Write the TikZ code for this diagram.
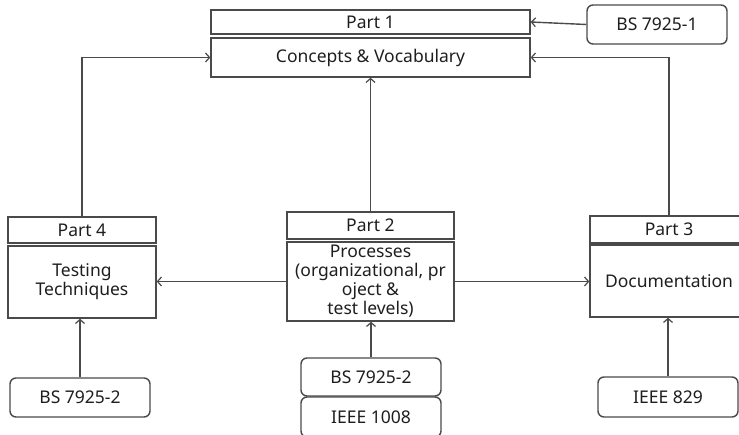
\documentclass[tikz,border=0pt]{standalone}
\usepackage{fontspec}
\setmainfont{Noto Sans}
\usetikzlibrary{arrows.meta}
\definecolor{linec}{HTML}{4A4A4A}
\definecolor{txtc}{HTML}{1E1E1E}
\tikzset{
  box/.style={draw=linec, line width=1.4pt, rectangle, inner sep=0pt, align=center, text=txtc,
    font=\fontsize{17.5}{19}\selectfont},
  rbox/.style={box, rounded corners=6pt, minimum width=140pt, minimum height=39pt},
  arr/.style={draw=linec, line width=1.4pt, -{Straight Barb[length=4pt,width=9pt,line width=1.2pt]}},
  plain/.style={draw=linec, line width=1.4pt}
}
\begin{document}
\begin{tikzpicture}[x=1pt,y=-1pt]
\useasboundingbox (0,0) rectangle (739,435);
\clip (0,0) rectangle (739,435);
% top
\node[box, minimum width=319pt, minimum height=24pt] (p1) at (370.5,22) {Part 1};
\node[box, minimum width=319pt, minimum height=39pt] (cv) at (370.5,57.5) {Concepts \& Vocabulary};
\node[rbox] (bs1) at (657,24.5) {BS 7925-1};
% left
\node[box, minimum width=148pt, minimum height=26pt] (p4) at (82,230) {Part 4};
\node[box, minimum width=148pt, minimum height=72pt] (tt) at (82,282) {Testing\\Techniques};
% center
\node[box, minimum width=167pt, minimum height=27pt] (p2) at (370.5,225.5) {Part 2};
\node[box, minimum width=167pt, minimum height=79pt] (pr) at (370.5,281.5) {Processes\\(organizational, pr\\oject \&\\test levels)};
% right
\node[box, minimum width=158pt, minimum height=27pt] (p3) at (669,229.5) {Part 3};
\node[box, minimum width=158pt, minimum height=72pt] (doc) at (669,281) {Documentation};
% bottom
\node[rbox] (bsa) at (80,397.5) {BS 7925-2};
\node[rbox, minimum height=38pt] (bsb) at (371,377) {BS 7925-2};
\node[rbox, minimum height=40pt] (ie1) at (371,417) {IEEE 1008};
\node[rbox, minimum height=40pt] (ie8) at (668,397) {IEEE 829};
% connectors
\draw[arr] (bs1.west) -- (p1.east);
\draw[arr] (p4.north) |- (cv.west);
\draw[arr] (p3.north) |- (cv.east);
\draw[arr] (p2.north) -- (cv.south);
\draw[arr] (pr.west) -- (tt.east |- pr.west);
\draw[arr] (pr.east) -- (doc.west |- pr.east);
\draw[arr] (bsa.north) -- (bsa.north |- tt.south);
\draw[arr] (bsb.north) -- (bsb.north |- pr.south);
\draw[arr] (ie8.north) -- (ie8.north |- doc.south);
\end{tikzpicture}
\end{document}
